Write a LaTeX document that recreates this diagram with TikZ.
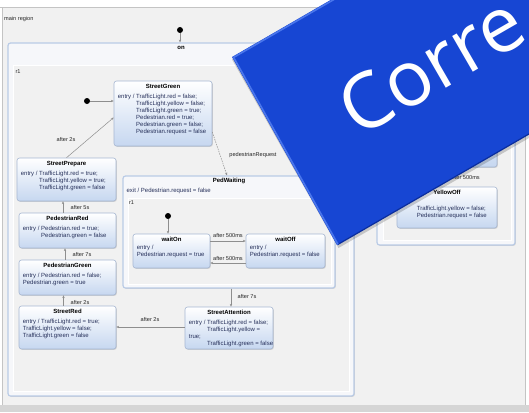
\documentclass[tikz,border=0pt]{standalone}
\usepackage{fontspec}
\setmainfont{Liberation Sans}
\newfontfamily\bannerfont{Open Sans}
\usetikzlibrary{arrows.meta,shadows}

\definecolor{canvasgray}{HTML}{F1F1F1}
\definecolor{framegray}{HTML}{C4C4C4}
\definecolor{bargray}{HTML}{D5D5D5}
\definecolor{stateedge}{HTML}{A7B7D2}
\definecolor{statelow}{HTML}{C6D7F0}
\definecolor{compedge}{HTML}{B9CBE6}
\definecolor{compfill}{HTML}{F6F7FA}
\definecolor{transgray}{HTML}{8E8E8E}
\definecolor{txtblue}{HTML}{26305A}
\definecolor{bannerblue}{HTML}{1746D3}
\definecolor{bannerhi}{HTML}{4A76EC}
\definecolor{bannerlo}{HTML}{0B2E9E}

\tikzset{
  simple/.style={rounded corners=2.5pt, draw=stateedge, line width=.6pt,
    top color=white, bottom color=statelow, inner sep=0pt,
    drop shadow={shadow xshift=.8pt, shadow yshift=-.8pt, opacity=.3}},
  composite/.style={rounded corners=2.5pt, draw=compedge, line width=1.2pt,
    fill=compfill, inner sep=0pt,
    drop shadow={shadow xshift=.8pt, shadow yshift=-.8pt, opacity=.3}},
  region/.style={draw=white, line width=1pt, fill=canvasgray, inner sep=0pt},
  stitle/.style={font=\fontsize{6}{7}\selectfont\bfseries, text=black, inner sep=0pt},
  sbody/.style={font=\fontsize{6}{7}\selectfont, text=txtblue, align=left,
    inner sep=0pt, anchor=north west},
  tlabel/.style={font=\fontsize{5.6}{6.5}\selectfont, text=black!85, inner sep=0pt},
  trans/.style={draw=transgray, line width=.5pt, -{Stealth[length=2.8pt,width=2.4pt]}},
  pseudo/.style={circle, fill=black, minimum size=6pt, inner sep=0pt},
}
\newcommand{\ind}{\phantom{entry / }}

\begin{document}
\begin{tikzpicture}[x=1pt,y=-1pt]
  \useasboundingbox (0,0) rectangle (529,412);
  \clip (0,0) rectangle (529,412);
  % editor frame
  \fill[white] (0,0) rectangle (529,412);
  \fill[canvasgray] (3,8) rectangle (525,405);
  \draw[framegray] (0,7.5) -- (529,7.5);
  \draw[framegray] (2.5,7.5) -- (2.5,405);
  \draw[framegray] (525.5,7.5) -- (525.5,405);
  \fill[bargray] (0,405) rectangle (529,412);
  \node[tlabel, anchor=west] (mainlbl) at (4,19) {main region};

  % state on
  \node[pseudo] (init0) at (180,30) {};
  \node[composite, minimum width=346, minimum height=353] (on) at (181,219.5) {};
  \node[stitle] (ontitle) at ([yshift=-6pt]on.north) {on};
  \node[region, minimum width=336, minimum height=326] (onr) at (181,228) {};
  \node[tlabel] (onrlbl) at (18,72) {r1};
  \draw[trans] (init0) -- (init0 |- on.north);

  % left column
  \node[pseudo] (init1) at (87,101) {};
  \node[simple, minimum width=98, minimum height=65] (sg) at (163,113.5) {};
  \node[stitle] at ([yshift=-6pt]sg.north) {StreetGreen};
  \node[sbody] at ([xshift=4pt,yshift=-13.5pt]sg.north west)
    {entry / TrafficLight.red = false;\\
     \ind TrafficLight.yellow = false;\\
     \ind TrafficLight.green = true;\\
     \ind Pedestrian.red = true;\\
     \ind Pedestrian.green = false;\\
     \ind Pedestrian.request = false};

  \node[simple, minimum width=99, minimum height=43] (sp) at (66.5,179.5) {};
  \node[stitle] at ([yshift=-6pt]sp.north) {StreetPrepare};
  \node[sbody] at ([xshift=4pt,yshift=-13pt]sp.north west)
    {entry / TrafficLight.red = true;\\
     \ind TrafficLight.yellow = true;\\
     \ind TrafficLight.green = false};

  \node[simple, minimum width=97, minimum height=35] (pr) at (67.5,230.5) {};
  \node[stitle] at ([yshift=-6pt]pr.north) {PedestrianRed};
  \node[sbody] at ([xshift=4pt,yshift=-13.3pt]pr.north west)
    {entry / Pedestrian.red = true;\\
     \ind Pedestrian.green = false};

  \node[simple, minimum width=97, minimum height=35] (pg) at (67.5,277.5) {};
  \node[stitle] at ([yshift=-6pt]pg.north) {PedestrianGreen};
  \node[sbody] at ([xshift=4pt,yshift=-13.3pt]pg.north west)
    {entry / Pedestrian.red = false;\\
     Pedestrian.green = true};

  \node[simple, minimum width=97, minimum height=43] (sr) at (67.5,327.5) {};
  \node[stitle] at ([yshift=-6pt]sr.north) {StreetRed};
  \node[sbody] at ([xshift=4pt,yshift=-13.5pt]sr.north west)
    {entry / TrafficLight.red = true;\\
     TrafficLight.yellow = false;\\
     TrafficLight.green = false};

  \node[simple, minimum width=88, minimum height=42] (sa) at (229,328) {};
  \node[stitle] at ([yshift=-6pt]sa.north) {StreetAttention};
  \node[sbody] at ([xshift=4pt,yshift=-13pt]sa.north west)
    {entry / TrafficLight.red = false;\\
     \ind TrafficLight.yellow =\\
     true;\\
     \ind TrafficLight.green = false};

  % PedWaiting
  \node[composite, minimum width=212, minimum height=112] (pw) at (229,232) {};
  \node[stitle] at ([yshift=-6pt]pw.north) {PedWaiting};
  \node[sbody] at ([xshift=4pt,yshift=-12.7pt]pw.north west)
    {exit / Pedestrian.request = false};
  \node[region, minimum width=203, minimum height=86] (pwr) at (229.5,241) {};
  \node[tlabel] (pwrlbl) at (131.5,203) {r1};
  \node[pseudo] (init2) at (168,216) {};
  \node[simple, minimum width=77, minimum height=34] (won) at (171.5,251) {};
  \node[stitle] at ([yshift=-6pt]won.north) {waitOn};
  \node[sbody] at ([xshift=4pt,yshift=-11.5pt]won.north west)
    {entry /\\
     Pedestrian.request = true};
  \node[simple, minimum width=79, minimum height=34] (woff) at (285.5,251) {};
  \node[stitle] at ([yshift=-6pt]woff.north) {waitOff};
  \node[sbody] at ([xshift=4pt,yshift=-11.5pt]woff.north west)
    {entry /\\
     Pedestrian.request = false};

  % right part, mostly under the banner
  \node[composite, minimum width=138, minimum height=215] (bl) at (446,137.5) {};
  \node[region, minimum width=128, minimum height=180] (blr) at (447,150) {};
  \node[simple, minimum width=100, minimum height=67] (yon) at (447,133.5) {};
  \node[simple, minimum width=100, minimum height=41] (yoff) at (447,207.5) {};
  \node[stitle] at ([yshift=-6pt]yoff.north) {YellowOff};
  \node[sbody] at ([xshift=20pt,yshift=-19pt]yoff.north west)
    {TrafficLight.yellow = false;\\
     Pedestrian.request = false};

  % transitions
  \coordinate (c1) at (63,0);
  \coordinate (c2) at (65,0);
  \coordinate (c3) at (63.5,0);
  \coordinate (c4) at (430,0);
  \draw[trans] (init1) -- (init1 -| sg.west);
  \draw[trans] (sp.north) -- ([yshift=-4pt]sg.west);
  \node[tlabel] at (66,139.5) {after 2s};
  \draw[trans, dash pattern=on 1.5pt off 1pt] ([yshift=-18.5pt]sg.east) -- ([xshift=-2pt]pw.north);
  \node[tlabel] at (253,155.5) {pedestrianRequest};
  \draw[trans] (c1 |- pr.north) -- (c1 |- sp.south);
  \node[tlabel] at (80,207) {after 5s};
  \draw[trans] (c2 |- pg.north) -- (c2 |- pr.south);
  \node[tlabel] at (82,254) {after 7s};
  \draw[trans] (c3 |- sr.north) -- (c3 |- pg.south);
  \node[tlabel] at (80,302) {after 2s};
  \draw[trans] ([yshift=1pt]sa.west) -- ([yshift=1pt]sa.west -| sr.east);
  \node[tlabel] at (150,319.5) {after 2s};
  \draw[trans] ([xshift=2pt]pw.south) -- ([xshift=2pt]sa.north);
  \node[tlabel] at (247,296.5) {after 7s};
  \draw[trans] (init2) -- (init2 |- won.north);
  \draw[trans] ([yshift=10pt]won.east) -- ([yshift=10pt]woff.west);
  \node[tlabel] at (228,235.5) {after 500ms};
  \draw[trans] ([yshift=-12pt]woff.west) -- ([yshift=-12pt]won.east);
  \node[tlabel] at (228,258) {after 500ms};
  \draw[trans] (c4 |- yon.south) -- (c4 |- yoff.north);
  \node[tlabel] at (465,177) {after 500ms};

  % banner
  \fill[black, opacity=.18] (232,59.5) -- (338.5,248) -- (685,48) -- (580,-140) -- cycle;
  \fill[bannerblue] (232,57) -- (337,245) -- (683,45) -- (578,-143) -- cycle;
  \draw[bannerlo, line width=1.2pt] (337.6,244.6) -- (683,45);
  \draw[bannerhi, line width=1.6pt, line join=round] (338,244.4) -- (233.6,57.4) -- (580,-142.6);
  \node[text=white, inner sep=0pt, rotate=30, font=\bannerfont\fontsize{77}{82}\selectfont]
    (banner) at (431,65) {Corre};
\end{tikzpicture}
\end{document}
